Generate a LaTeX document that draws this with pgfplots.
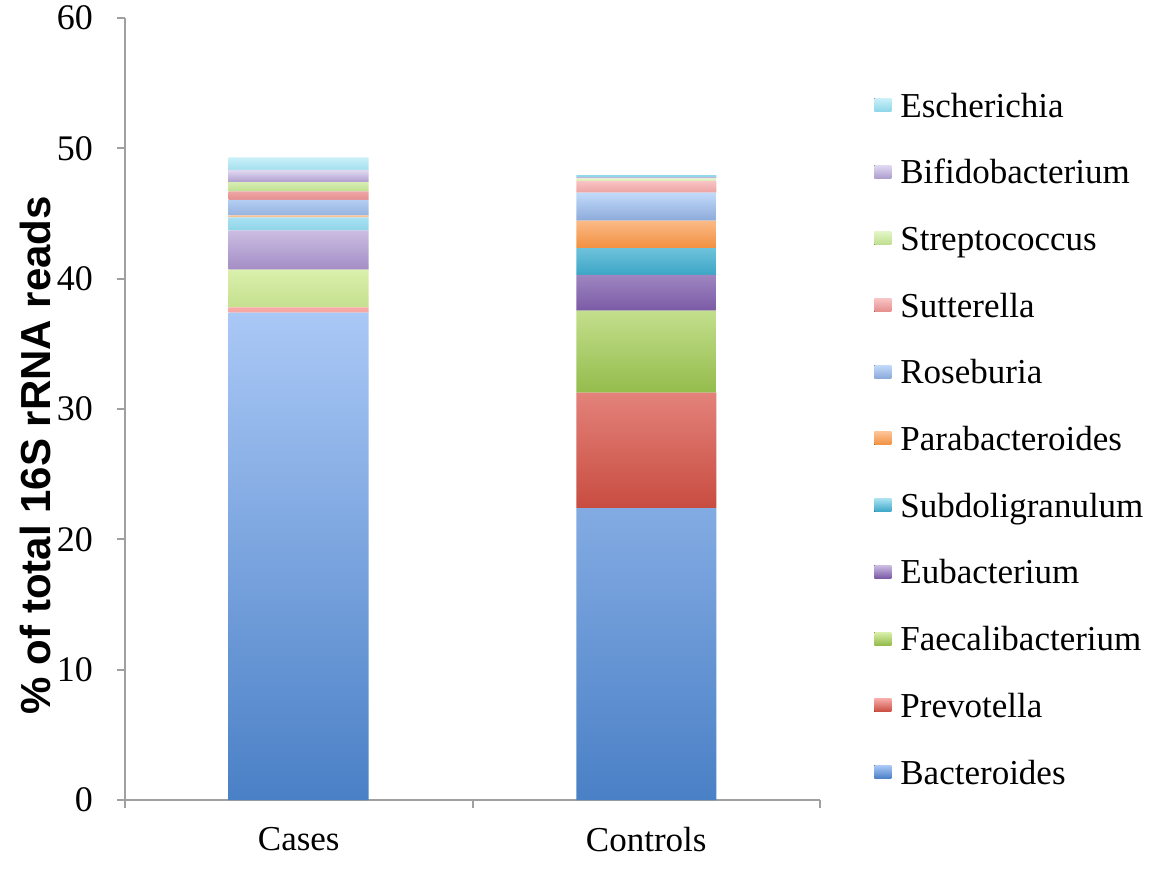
\documentclass[border=0pt]{standalone}
\usepackage{fontspec}
\setmainfont{Liberation Serif}
\setsansfont{Liberation Sans}
\usepackage{pgfplots}
\pgfplotsset{compat=1.18}

\definecolor{bacB}{HTML}{4A80C6}\definecolor{bacT}{HTML}{AAC8F6}
\definecolor{prvB}{HTML}{C84C40}\definecolor{prvT}{HTML}{F7AAA6}
\definecolor{faeB}{HTML}{94BC4C}\definecolor{faeT}{HTML}{DAF0AC}
\definecolor{eubB}{HTML}{7A5AA6}\definecolor{eubT}{HTML}{CBBDE2}
\definecolor{subB}{HTML}{3CA6C6}\definecolor{subT}{HTML}{A8E2F2}
\definecolor{parB}{HTML}{F29040}\definecolor{parT}{HTML}{FCC294}
\definecolor{rosB}{HTML}{8CAADA}\definecolor{rosT}{HTML}{C2DAFA}
\definecolor{sutB}{HTML}{E58E8E}\definecolor{sutT}{HTML}{F8C4C4}
\definecolor{strB}{HTML}{BEDE8E}\definecolor{strT}{HTML}{E2F4C4}
\definecolor{bifB}{HTML}{AE9ECE}\definecolor{bifT}{HTML}{E2DAF2}
\definecolor{escB}{HTML}{8ED6EA}\definecolor{escT}{HTML}{CAF0F8}
\definecolor{axgray}{HTML}{A0A0A0}

\begin{document}
\begin{tikzpicture}
\useasboundingbox (-62.5pt,-34pt) rectangle (518pt,400pt);
\begin{axis}[
  scale only axis,
  width=347.5pt, height=391pt,
  ybar stacked,
  bar width=70pt,
  xmin=-0.5, xmax=1.5,
  ymin=0, ymax=60,
  ytick={0,10,20,30,40,50,60},
  xtick={-0.5,0.5,1.5},
  xticklabels={},
  extra x ticks={0,1},
  extra x tick labels={Cases,Controls},
  extra x tick style={major tick length=0pt},
  axis lines=left,
  axis line style={axgray, line width=1pt, -},
  tick style={axgray, line width=1pt},
  tick align=outside,
  major tick length=4pt,
  /pgf/number format/assume math mode=true,
  yticklabel style={font=\fontsize{18}{21}\selectfont, xshift=-8.5pt},
  xticklabel style={font=\fontsize{17.5}{20}\selectfont, yshift=-10pt},
  every axis y label/.style={at={(axis description cs:-0.1295,0.441)}, rotate=90, anchor=center},
  ylabel={\fontsize{21}{24}\selectfont\sffamily\bfseries \% of total 16S rRNA reads},
  reverse legend,
  legend cell align=left,
  legend style={draw=none, fill=none, inner sep=0pt,
    at={(1.0777,0.9046)}, anchor=north west,
    row sep=17.35pt,
    font=\fontsize{17.5}{20}\selectfont,
    nodes={inner sep=0pt, text height=12pt, text depth=4pt},
    /tikz/every odd column/.append style={column sep=4.5pt}},
  legend image code/.code={\fill[#1] (0pt,-1.2pt) rectangle (8.5pt,5.3pt);},
]
\addplot[draw=none, top color=bacT, bottom color=bacB] coordinates {(0,37.4) (1,22.4)};
\addlegendentry{Bacteroides}
\addplot[draw=none, top color=prvT, bottom color=prvB] coordinates {(0,0.4) (1,8.85)};
\addlegendentry{Prevotella}
\addplot[draw=none, top color=faeT, bottom color=faeB] coordinates {(0,2.9) (1,6.3)};
\addlegendentry{Faecalibacterium}
\addplot[draw=none, top color=eubT, bottom color=eubB] coordinates {(0,3.0) (1,2.75)};
\addlegendentry{Eubacterium}
\addplot[draw=none, top color=subT, bottom color=subB] coordinates {(0,1.0) (1,2.05)};
\addlegendentry{Subdoligranulum}
\addplot[draw=none, top color=parT, bottom color=parB] coordinates {(0,0.15) (1,2.1)};
\addlegendentry{Parabacteroides}
\addplot[draw=none, top color=rosT, bottom color=rosB] coordinates {(0,1.2) (1,2.15)};
\addlegendentry{Roseburia}
\addplot[draw=none, top color=sutT, bottom color=sutB] coordinates {(0,0.65) (1,0.9)};
\addlegendentry{Sutterella}
\addplot[draw=none, top color=strT, bottom color=strB] coordinates {(0,0.7) (1,0.2)};
\addlegendentry{Streptococcus}
\addplot[draw=none, top color=bifT, bottom color=bifB] coordinates {(0,0.95) (1,0.1)};
\addlegendentry{Bifidobacterium}
\addplot[draw=none, top color=escT, bottom color=escB] coordinates {(0,0.95) (1,0.15)};
\addlegendentry{Escherichia}
\end{axis}
\end{tikzpicture}
\end{document}
